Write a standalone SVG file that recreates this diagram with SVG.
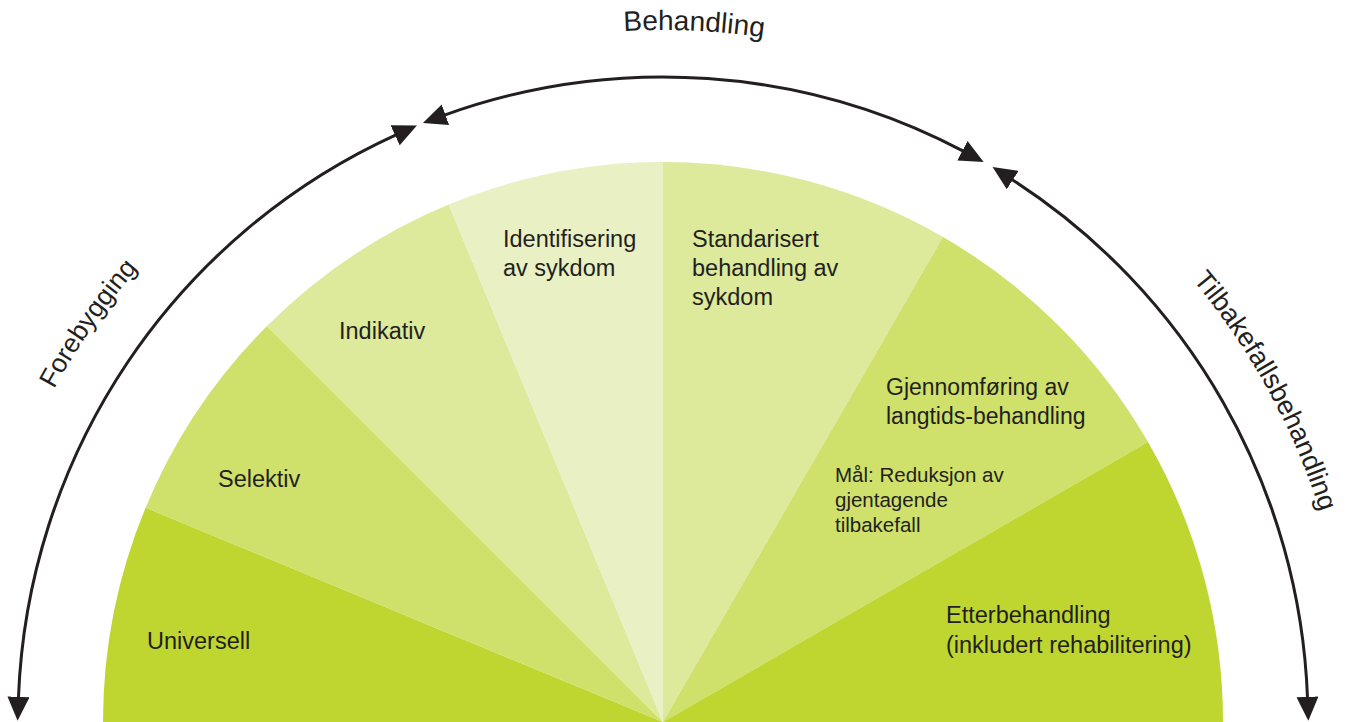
<svg xmlns="http://www.w3.org/2000/svg" width="1352" height="722" viewBox="0 0 1352 722">
<style>
.seg{stroke:none}
.c1{fill:#bed62f}
.c2{fill:#cfe06b}
.c3{fill:#dde99b}
.c4{fill:#e9f0c4}
.lbl{font-family:"Liberation Sans",Arial,sans-serif;font-size:23.5px;fill:#231f20}
.small{font-size:20.5px}
.arc-lbl{font-family:"Liberation Sans",Arial,sans-serif;font-size:26.5px;fill:#231f20}
.conn{fill:none;stroke:#231f20;stroke-width:3;marker-start:url(#ah);marker-end:url(#ah)}
</style>
<defs>
<marker id="ah" markerUnits="userSpaceOnUse" markerWidth="24" markerHeight="22" viewBox="0 0 24 22" refX="1" refY="11" orient="auto-start-reverse">
<path d="M0,0 L24,11 L0,22 Z" fill="#231f20"/>
</marker>
<path id="pBeh" d="M317,122.7 A692,692 0 0 1 1009,122.7"/>
<path id="pFor" d="M-31,722 A694,694 0 0 1 663,28"/>
<path id="pTil" d="M663,32 A690,690 0 0 1 1353,722"/>
</defs>
<rect width="1352" height="722" fill="#ffffff"/>

<g id="universell">
<path class="seg c1" d="M663,722 L103,722 A560,560 0 0 1 145.6,507.7 Z"/>
<text class="lbl" x="147" y="649">Universell</text>
</g>
<g id="selektiv">
<path class="seg c2" d="M663,722 L145.6,507.7 A560,560 0 0 1 267,326 Z"/>
<text class="lbl" x="218" y="487">Selektiv</text>
</g>
<g id="indikativ">
<path class="seg c3" d="M663,722 L267,326 A560,560 0 0 1 448.7,204.6 Z"/>
<text class="lbl" x="339" y="339">Indikativ</text>
</g>
<g id="identifisering">
<path class="seg c4" d="M663,722 L448.7,204.6 A560,560 0 0 1 663,162 Z"/>
<text class="lbl" x="503" y="247"><tspan x="503">Identifisering</tspan><tspan x="503" dy="29">av sykdom</tspan></text>
</g>
<g id="standarisert">
<path class="seg c3" d="M663,722 L663,162 A560,560 0 0 1 943,237 Z"/>
<text class="lbl" x="692" y="247"><tspan x="692">Standarisert</tspan><tspan x="692" dy="29">behandling av</tspan><tspan x="692" dy="29">sykdom</tspan></text>
</g>
<g id="gjennomforing">
<path class="seg c2" d="M663,722 L943,237 A560,560 0 0 1 1148,442 Z"/>
<text class="lbl" x="886" y="395" style="font-size:23px"><tspan x="886">Gjennomføring av</tspan><tspan x="886" dy="29">langtids-behandling</tspan></text>
<text class="lbl small" x="835" y="482"><tspan x="835">Mål: Reduksjon av</tspan><tspan x="835" dy="25">gjentagende</tspan><tspan x="835" dy="25">tilbakefall</tspan></text>
</g>
<g id="etterbehandling">
<path class="seg c1" d="M663,722 L1148,442 A560,560 0 0 1 1223,722 Z"/>
<text class="lbl" x="946" y="623"><tspan x="946">Etterbehandling</tspan><tspan x="946" dy="30">(inkludert rehabilitering)</tspan></text>
</g>

<g id="connectors">
<path id="arcForebygging" class="conn" d="M396,134.9 A645,645 0 0 0 18.45,697.8"/>
<path id="arcBehandling" class="conn" d="M444.5,115.1 A645,645 0 0 1 963.3,151.2"/>
<path id="arcTilbakefall" class="conn" d="M1011.9,179.5 A645,645 0 0 1 1307.5,697.8"/>
</g>

<g id="phase-labels">
<text class="arc-lbl" style="font-size:28px"><textPath href="#pBeh" startOffset="323">Behandling</textPath></text>
<text class="arc-lbl"><textPath href="#pFor" startOffset="347">Forebygging</textPath></text>
<text class="arc-lbl" style="font-size:27px"><textPath href="#pTil" startOffset="604">Tilbakefallsbehandling</textPath></text>
</g>
</svg>
